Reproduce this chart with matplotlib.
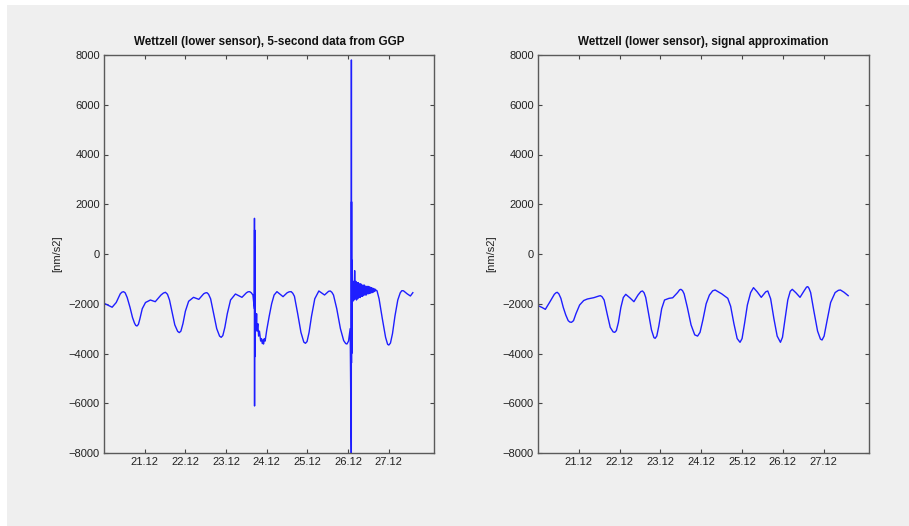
import numpy as np
import matplotlib
matplotlib.use('Agg')
import matplotlib.pyplot as plt
from matplotlib.patches import Rectangle

plt.rcParams['font.family'] = ['Liberation Sans', 'DejaVu Sans']

# x = day of December, y = gravity residual in nm/s^2
# left panel: raw 5-second data (with two earthquake spikes)
raw_day = [20.00, 20.10, 20.20, 20.30, 20.40, 20.44, 20.48, 20.52, 20.57,
           20.64, 20.70, 20.75, 20.78, 20.81, 20.845, 20.88, 20.94, 21.02,
           21.14, 21.26, 21.40, 21.46, 21.51, 21.56, 21.61, 21.68, 21.74, 21.81,
           21.85, 21.89, 21.94, 22.00, 22.08, 22.20, 22.33, 22.45, 22.49, 22.53,
           22.57, 22.62, 22.70, 22.77, 22.84, 22.88, 22.92, 22.97, 23.03, 23.11,
           23.23, 23.39, 23.50, 23.54, 23.58, 23.62, 23.66,
           23.695, 23.698, 23.700, 23.702, 23.704, 23.706, 23.708, 23.712, 23.716,
           23.73, 23.74, 23.75, 23.76, 23.78, 23.80, 23.82, 23.85, 23.87, 23.89,
           23.91, 23.92, 23.94, 23.96, 24.00, 24.06, 24.12, 24.18, 24.25, 24.40,
           24.50, 24.55, 24.60, 24.64, 24.68, 24.76, 24.84, 24.91, 24.95, 24.99,
           25.04, 25.10, 25.18, 25.28, 25.42, 25.52, 25.56, 25.60, 25.64, 25.72,
           25.81, 25.89, 25.94, 25.97, 26.01, 26.05,
           26.078, 26.080, 26.082, 26.084, 26.086, 26.088, 26.090, 26.093, 26.096,
           26.100, 26.115, 26.130, 26.145, 26.160, 26.175, 26.190, 26.205, 26.220,
           26.235, 26.250, 26.265, 26.280, 26.295, 26.310, 26.325, 26.340, 26.355,
           26.370, 26.385, 26.400, 26.415, 26.430, 26.445, 26.460, 26.475, 26.490,
           26.505, 26.520, 26.535, 26.550, 26.565, 26.580, 26.595, 26.610, 26.625,
           26.640, 26.655, 26.670, 26.685,
           26.71, 26.76, 26.84, 26.92, 26.97, 27.00, 27.04, 27.09, 27.15, 27.22,
           27.28, 27.32, 27.36, 27.45, 27.53, 27.59]
raw_val = [-1980, -2060, -2140, -1950, -1600, -1535, -1515, -1560, -1750,
           -2150, -2550, -2780, -2870, -2894, -2830, -2620, -2200, -1950,
           -1850, -1917, -1650, -1570, -1540, -1620, -1850, -2400, -2850, -3110,
           -3160, -3100, -2800, -2300, -1900, -1742, -1823, -1600, -1565, -1555,
           -1620, -1800, -2450, -3000, -3300, -3350, -3280, -2950, -2400, -1850,
           -1608, -1742, -1560, -1520, -1514, -1560, -1650,
           -2200, 1435, -6110, 965, -4130, 300, -3000, -2000, -2600,
           -2500, -2900, -2400, -3100, -2800, -3300, -3100, -3500, -3400, -3600,
           -3450, -3620, -3400, -3500, -3050, -2500, -2000, -1650, -1514, -1715,
           -1560, -1520, -1514, -1580, -1700, -2400, -3150, -3540, -3590, -3520,
           -3150, -2500, -1800, -1487, -1648, -1500, -1487, -1540, -1650, -2200,
           -3000, -3480, -3600, -3618, -3500, -3000,
           -8500, 7800, -4380, 2100, -4000, -240, -3000, -1000, -2500,
           -1150, -1900, -1100, -1850, -670, -1800, -1100, -1850, -1150,
           -1800, -1150, -1750, -1200, -1750, -1200, -1700, -1250, -1700,
           -1250, -1650, -1250, -1650, -1300, -1650, -1300, -1600, -1300,
           -1600, -1320, -1580, -1340, -1560, -1360, -1550, -1380, -1530,
           -1400, -1500, -1420, -1460,
           -1480, -1800, -2600, -3350, -3630, -3660, -3580, -3200, -2500, -1850,
           -1560, -1474, -1480, -1600, -1688, -1555]

# right panel: signal approximation
fit_day = [20.02, 20.10, 20.18, 20.30, 20.40, 20.44, 20.47, 20.51, 20.56,
           20.62, 20.68, 20.74, 20.78, 20.82, 20.87, 20.93, 21.02, 21.12,
           21.21, 21.37, 21.49, 21.53, 21.57, 21.62, 21.70, 21.77, 21.84, 21.88,
           21.92, 21.97, 22.03, 22.09, 22.15, 22.25, 22.35, 22.45, 22.52, 22.56,
           22.60, 22.64, 22.71, 22.78, 22.84, 22.87, 22.91, 22.96, 23.03, 23.10,
           23.21, 23.30, 23.42, 23.47, 23.50, 23.54, 23.58, 23.66, 23.75, 23.84,
           23.91, 23.97, 24.04, 24.12, 24.20, 24.28, 24.34, 24.50, 24.65, 24.72,
           24.80, 24.88, 24.95, 25.00, 25.06, 25.13, 25.21, 25.28, 25.37, 25.47,
           25.58, 25.63, 25.70, 25.78, 25.86, 25.94, 25.99, 26.05, 26.12, 26.18,
           26.23, 26.32, 26.42, 26.52, 26.58, 26.61, 26.64, 26.68, 26.76, 26.85,
           26.92, 26.96, 27.01, 27.08, 27.17, 27.28, 27.36, 27.41, 27.50, 27.60]
fit_val = [-2090, -2150, -2225, -1900, -1620, -1560, -1540, -1600, -1780,
           -2150, -2450, -2680, -2735, -2747, -2680, -2400, -2050, -1870,
           -1809, -1755, -1690, -1675, -1720, -1850, -2450, -2950, -3130, -3150,
           -3080, -2750, -2150, -1750, -1621, -1760, -1917, -1650, -1510, -1487,
           -1560, -1750, -2400, -3050, -3360, -3390, -3300, -2900, -2200, -1850,
           -1782, -1760, -1550, -1440, -1420, -1470, -1600, -2150, -2850, -3250,
           -3300, -3150, -2650, -2000, -1650, -1480, -1447, -1600, -1782, -2100,
           -2800, -3400, -3550, -3400, -2800, -2050, -1550, -1353, -1520, -1742,
           -1520, -1487, -1800, -2600, -3300, -3550, -3350, -2650, -1850, -1500,
           -1420, -1560, -1742, -1480, -1330, -1313, -1380, -1550, -2300, -3100,
           -3420, -3457, -3300, -2700, -1950, -1550, -1460, -1447, -1540, -1675]

xticks = [21, 22, 23, 24, 25, 26, 27]
xticklabels = ['21.12', '22.12', '23.12', '24.12', '25.12', '26.12', '27.12']
titles = ['Wettzell (lower sensor), 5-second data from GGP',
          'Wettzell (lower sensor), signal approximation']

BG = '#efefef'
fig = plt.figure(figsize=(9.09, 5.26), dpi=100, facecolor='white')
fig.patches.append(Rectangle((7/909, 0), 1, 521/526, transform=fig.transFigure,
                             facecolor=BG, edgecolor='none', zorder=-10))

ax1 = fig.add_axes([104/909, 73/526, 330/909, 398/526])
ax2 = fig.add_axes([538/909, 73/526, 331/909, 398/526])

ax1.plot(raw_day, raw_val, color='#1e1eff', lw=1.0)
ax2.plot(fit_day, fit_val, color='#1e1eff', lw=1.0)

for ax, t in zip([ax1, ax2], titles):
    ax.set_facecolor(BG)
    ax.set_xlim(20.0, 28.11)
    ax.set_ylim(-8000, 8000)
    ax.set_yticks(np.arange(-8000, 8001, 2000))
    ax.set_xticks(xticks)
    ax.set_xticklabels(xticklabels)
    ax.tick_params(direction='in', length=3, width=0.8, color='#444',
                   labelsize=8, labelcolor='#222', top=True, right=True, pad=3)
    for s in ax.spines.values():
        s.set_color('#5a5a5a'); s.set_linewidth(1.0)
    ax.set_title(t, fontsize=8.4, fontweight='bold', color='#111', pad=7)
    ax.set_ylabel('[nm/s2]', fontsize=8, color='#222', labelpad=5)

fig.savefig('out.png', dpi=100, facecolor='white')
